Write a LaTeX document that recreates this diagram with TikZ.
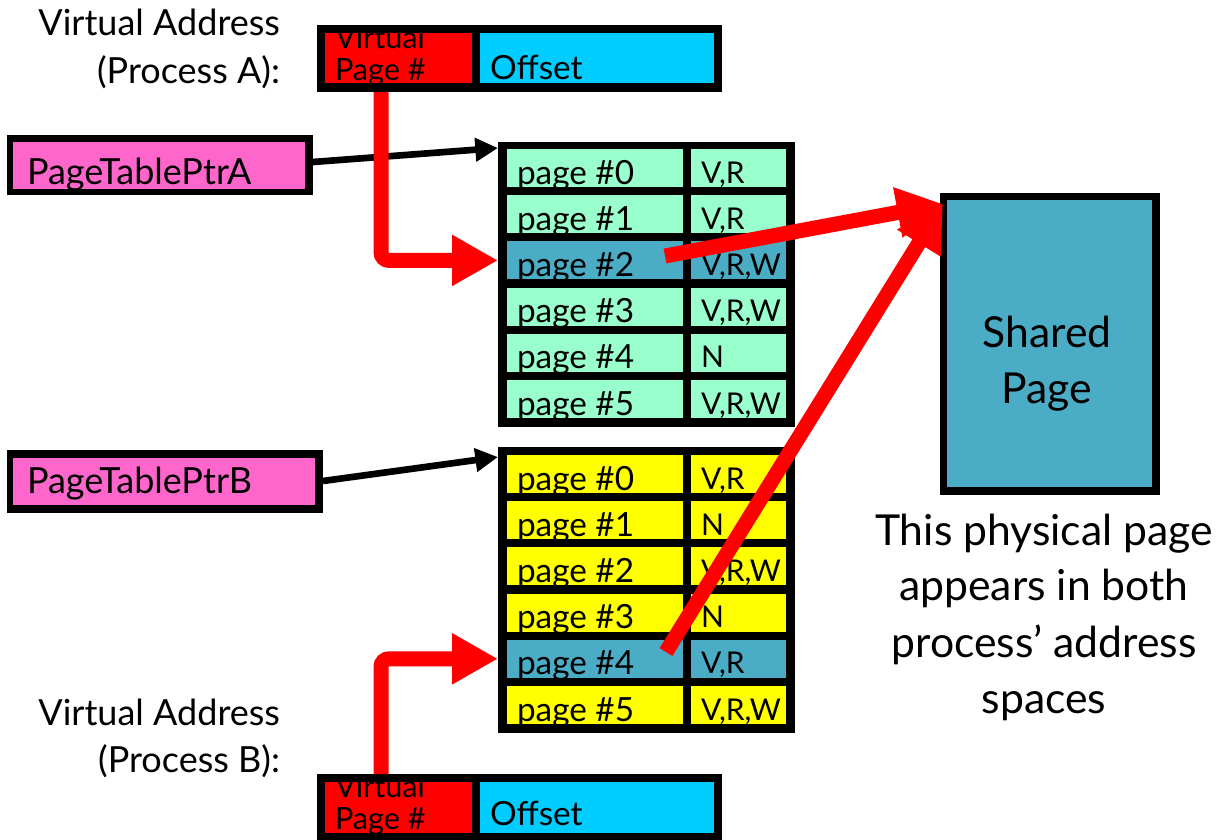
\documentclass[tikz,border=0pt]{standalone}
\usepackage{fontspec}
\setmainfont{Lato}
\usetikzlibrary{arrows.meta,fit}
\definecolor{mint}{RGB}{153,255,204}
\definecolor{shblue}{RGB}{75,172,198}
\definecolor{vpnred}{RGB}{255,0,0}
\definecolor{offblue}{RGB}{0,204,255}
\definecolor{ptrpink}{RGB}{255,102,204}
\definecolor{pyellow}{RGB}{255,255,0}
\newcommand\fsz[2]{\fontsize{#1}{#2}\selectfont}
\begin{document}
\begin{tikzpicture}[x=0.75pt,y=-0.75pt,
  rect/.style={inner sep=0pt,outer sep=0pt,draw=none},
  frame/.style={rect,fill=black},
  txt/.style={inner sep=0pt,outer sep=0pt,anchor=base west},
  celltxt/.style={txt,font=\fsz{25}{28}},
  flagtxt/.style={txt,font=\fsz{22.5}{28}},
  bigtxt/.style={inner sep=0pt,outer sep=0pt,font=\fsz{27}{30}},
  captxt/.style={inner sep=0pt,outer sep=0pt,anchor=base,font=\fsz{32}{42}},
  redline/.style={vpnred,line width=11.25pt,-{Triangle[length=34.5pt,width=36pt]}},
  blackline/.style={black,line width=5pt,-{Triangle[length=17pt,width=17pt]}}]
\useasboundingbox (0,0) rectangle (1217,839);

% ---- Virtual address boxes
\node[frame,fit={(317,25) (722,92)}] (vaA) {};
\node[rect,fill=vpnred,fit={(325,33) (472,83)}] (vpnA) {};
\node[rect,fill=offblue,fit={(480,33) (714,83)}] (offA) {};
\begin{scope}
\clip (vpnA.north west) rectangle (vpnA.south east);
\node[txt,font=\fsz{23}{24}] (vpnAt1) at (335,48) {Virtual};
\node[txt,font=\fsz{23}{24}] (vpnAt2) at (335,80) {Page \#};
\end{scope}
\node[txt,font=\fsz{25}{28}] (offAt) at (490,79) {Offset};

\node[frame,fit={(317,774) (722,842)}] (vaB) {};
\node[rect,fill=vpnred,fit={(325,782) (472,833)}] (vpnB) {};
\node[rect,fill=offblue,fit={(480,782) (714,833)}] (offB) {};
\begin{scope}
\clip (vpnB.north west) rectangle (vpnB.south east);
\node[txt,font=\fsz{23}{24}] (vpnBt1) at (335,797) {Virtual};
\node[txt,font=\fsz{23}{24}] (vpnBt2) at (335,829) {Page \#};
\end{scope}
\node[txt,font=\fsz{25}{28}] (offBt) at (490,825) {Offset};

% ---- page table pointers
\node[frame,fit={(7,135) (313,195)}] (ptrA) {};
\node[rect,fill=ptrpink,fit={(13,142) (305,189)}] (ptrAin) {};
\node[txt,font=\fsz{27}{30}] (ptrAt) at (27,184) {PageTablePtrA};

\node[frame,fit={(7,450) (323,513)}] (ptrB) {};
\node[rect,fill=ptrpink,fit={(13,458) (315,505)}] (ptrBin) {};
\node[txt,font=\fsz{27}{30}] (ptrBt) at (27,493) {PageTablePtrB};

% ---- page table A
\node[frame,fit={(498,142) (795,427)}] (tblA) {};
\foreach \i/\f/\c in {0/{V,R}/mint,1/{V,R}/mint,2/{V,R,W}/shblue,3/{V,R,W}/mint,4/{N}/mint,5/{V,R,W}/mint}{
  \pgfmathsetmacro\yt{149+46.2*\i}
  \pgfmathsetmacro\yb{\yt+38}
  \node[rect,fill=\c,fit={(507,\yt) (683,\yb)}] (aL\i) {};
  \node[rect,fill=\c,fit={(691,\yt) (786,\yb)}] (aR\i) {};
  \node[celltxt] (aLt\i) at (517,\yb-3) {page \#\i};
  \node[flagtxt] (aRt\i) at (701,\yb-4) {\f};
}

% ---- page table B
\node[frame,fit={(498,447) (795,733)}] (tblB) {};
\foreach \i/\f/\c in {0/{V,R}/pyellow,1/{N}/pyellow,2/{V,R,W}/pyellow,3/{N}/pyellow,4/{V,R}/shblue,5/{V,R,W}/pyellow}{
  \pgfmathsetmacro\yt{455+46.2*\i}
  \pgfmathsetmacro\yb{\yt+38}
  \node[rect,fill=\c,fit={(507,\yt) (683,\yb)}] (bL\i) {};
  \node[rect,fill=\c,fit={(691,\yt) (786,\yb)}] (bR\i) {};
  \node[celltxt] (bLt\i) at (517,\yb-3) {page \#\i};
  \node[flagtxt] (bRt\i) at (701,\yb-4) {\f};
}

% ---- shared page
\node[frame,fit={(940,193) (1160,495)}] (shared) {};
\node[rect,fill=shblue,fit={(947,200) (1152,487)}] (sharedin) {};
\node[captxt] (shT1) at (1047,347) {Shared};
\node[captxt] (shT2) at (1047,403) {Page};

% ---- black pointer arrows
\coordinate (tipA) at (498,148);
\coordinate (tipB) at (498,457);
\draw[blackline] (313,162) coordinate (srcA) -- (tipA);
\draw[blackline] (323,481) coordinate (srcB) -- (tipB);

% ---- red translation paths
\draw[redline,rounded corners=6pt] (381,0 |- vaA.south) |- (tblA.west |- aL2.west);
\draw[redline,rounded corners=6pt] (381,0 |- vaB.north) |- (tblB.west |- bL4.west);
\coordinate (fromA) at (665,256);
\coordinate (fromB) at (666,652);
\coordinate (tipS) at (943,204);
\draw[redline] (fromA) -- (tipS);
\draw[redline] (fromB) -- (tipS);

% ---- labels
\node[bigtxt,anchor=base east] (laA1) at (280,35) {Virtual Address};
\node[bigtxt,anchor=base east] (laA2) at (280,83) {(Process A):};
\node[bigtxt,anchor=base east] (laB1) at (280,725) {Virtual Address};
\node[bigtxt,anchor=base east] (laB2) at (280,772) {(Process B):};

\node[captxt] (cap1) at (1044,545) {This physical page};
\node[captxt] (cap2) at (1044,600) {appears in both};
\node[captxt] (cap3) at (1044,657) {process’ address};
\node[captxt] (cap4) at (1044,713) {spaces};
\end{tikzpicture}
\end{document}
